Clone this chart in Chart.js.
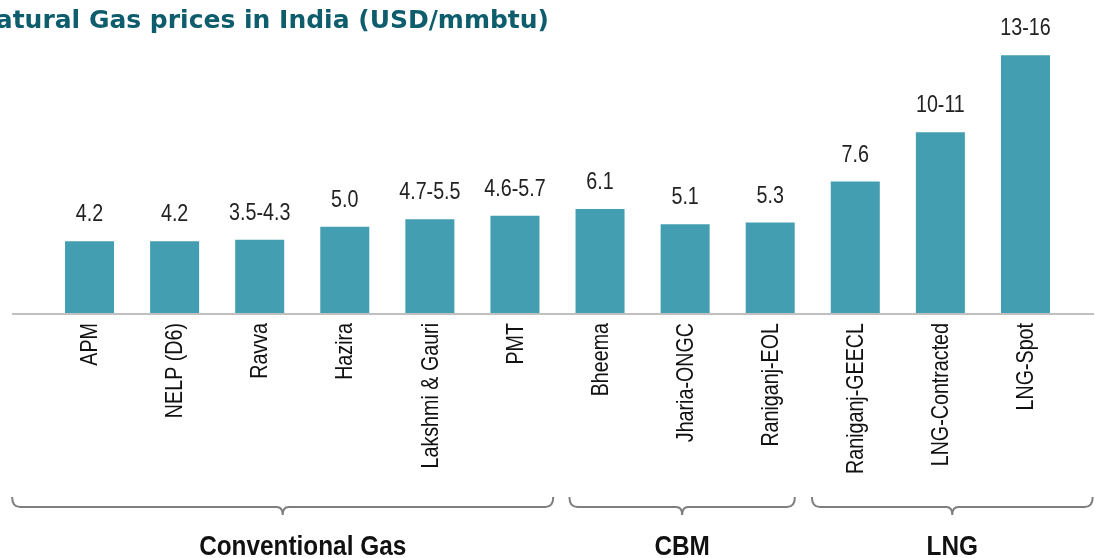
<!DOCTYPE html>
<html>
<head>
<meta charset="utf-8">
<script src="https://cdn.jsdelivr.net/npm/chart.js@4/dist/chart.umd.min.js"></script>
<style>
  body { margin: 0; background: #fff; }
  #wrap { width: 1095px; height: 558px; }
</style>
</head>
<body>
<div id="wrap"><canvas id="gasChart" width="1095" height="558"></canvas></div>
<script>
const categories = ["APM", "NELP (D6)", "Ravva", "Hazira", "Lakshmi & Gauri", "PMT",
    "Bheema", "Jharia-ONGC", "Raniganj-EOL", "Raniganj-GEECL", "LNG-Contracted", "LNG-Spot"];
const prices = [4.2, 4.2, 4.3, 5.05, 5.5, 5.7, 6.1, 5.2, 5.3, 7.7, 10.6, 15.1];
const priceLabels = ["4.2", "4.2", "3.5-4.3", "5.0", "4.7-5.5", "4.6-5.7",
    "6.1", "5.1", "5.3", "7.6", "10-11", "13-16"];
const groupNames = ["Conventional Gas", "CBM", "LNG"];
const groupSizes = [6, 3, 3];

const SANS = '"Liberation Sans", Arial, sans-serif';

// no narrow font installed, so squeeze Liberation Sans sideways
function narrowText(ctx, text, x, y, angle, squeeze = 0.82) {
    ctx.save();
    ctx.translate(x, y);
    if (angle) ctx.rotate(angle);
    ctx.scale(squeeze, 1);
    ctx.fillText(text, 0, 0);
    ctx.restore();
}

// title, baseline, value labels, category labels and group brackets
const extras = {
    id: "extras",
    afterDatasetsDraw(chart) {
        const ctx = chart.ctx;
        const x = chart.scales.x;
        const y = chart.scales.y;
        const y0 = y.getPixelForValue(0);
        ctx.save();

        // baseline
        ctx.strokeStyle = "#c0c0c0";
        ctx.lineWidth = 2;
        ctx.beginPath();
        ctx.moveTo(12, y0 + 1);
        ctx.lineTo(1094, y0 + 1);
        ctx.stroke();

        // title (first letter runs off the left edge like the source)
        ctx.fillStyle = "#0d5d6d";
        ctx.font = 'bold 25px "DejaVu Sans", sans-serif';
        ctx.textAlign = "right";
        ctx.textBaseline = "alphabetic";
        ctx.fillText("Natural Gas prices in India (USD/mmbtu)", 549, 28);

        // value labels
        const meta = chart.getDatasetMeta(0);
        ctx.fillStyle = "#222";
        ctx.font = "24px " + SANS;
        ctx.textAlign = "center";
        meta.data.forEach((bar, i) => {
            narrowText(ctx, priceLabels[i], bar.x, bar.y - 20);
        });

        // category labels, rotated
        ctx.fillStyle = "#111";
        ctx.textAlign = "right";
        ctx.textBaseline = "middle";
        categories.forEach((c, i) => {
            narrowText(ctx, c, x.getPixelForValue(i) + 1, y0 + 10, -Math.PI / 2);
        });

        // group brackets, spans in category units
        const spans = [[-0.91, 5.45], [5.64, 8.29], [8.49, 11.79]];
        const labelShift = [20, 0, 0];
        const px = v => x.getPixelForValue(0) + v * (x.getPixelForValue(1) - x.getPixelForValue(0));
        const by = 507;
        groupNames.forEach((name, g) => {
            const left = px(spans[g][0]);
            const right = px(spans[g][1]);
            const cx = (left + right) / 2;

            ctx.strokeStyle = "#7f7f7f";
            ctx.lineWidth = 2;
            ctx.beginPath();
            ctx.moveTo(left, by - 10);
            ctx.quadraticCurveTo(left, by, left + 8, by);
            ctx.lineTo(cx - 6, by);
            ctx.quadraticCurveTo(cx, by, cx, by + 8);
            ctx.quadraticCurveTo(cx, by, cx + 6, by);
            ctx.lineTo(right - 8, by);
            ctx.quadraticCurveTo(right, by, right, by - 10);
            ctx.stroke();

            ctx.fillStyle = "#111";
            ctx.font = "bold 28px " + SANS;
            ctx.textAlign = "center";
            ctx.textBaseline = "alphabetic";
            narrowText(ctx, name, cx + labelShift[g], 555, 0, 0.87);
        });

        ctx.restore();
    }
};

new Chart(document.getElementById("gasChart").getContext("2d"), {
    type: "bar",
    data: {
        labels: categories,
        datasets: [{
            label: "USD/mmbtu",
            data: prices,
            backgroundColor: "#429eb0",
            barPercentage: 0.576,
            categoryPercentage: 1
        }]
    },
    options: {
        responsive: false,
        animation: false,
        devicePixelRatio: 1,
        layout: { padding: { left: 47, right: 27, top: 40, bottom: 85 } },
        plugins: {
            legend: { display: false },
            tooltip: { enabled: false }
        },
        scales: {
            x: {
                grid: { display: false, drawTicks: false },
                border: { display: false },
                ticks: { display: false },
                afterFit: scale => { scale.height = 160; }
            },
            y: {
                display: false,
                min: 0,
                max: 16
            }
        }
    },
    plugins: [extras]
});
</script>
</body>
</html>
